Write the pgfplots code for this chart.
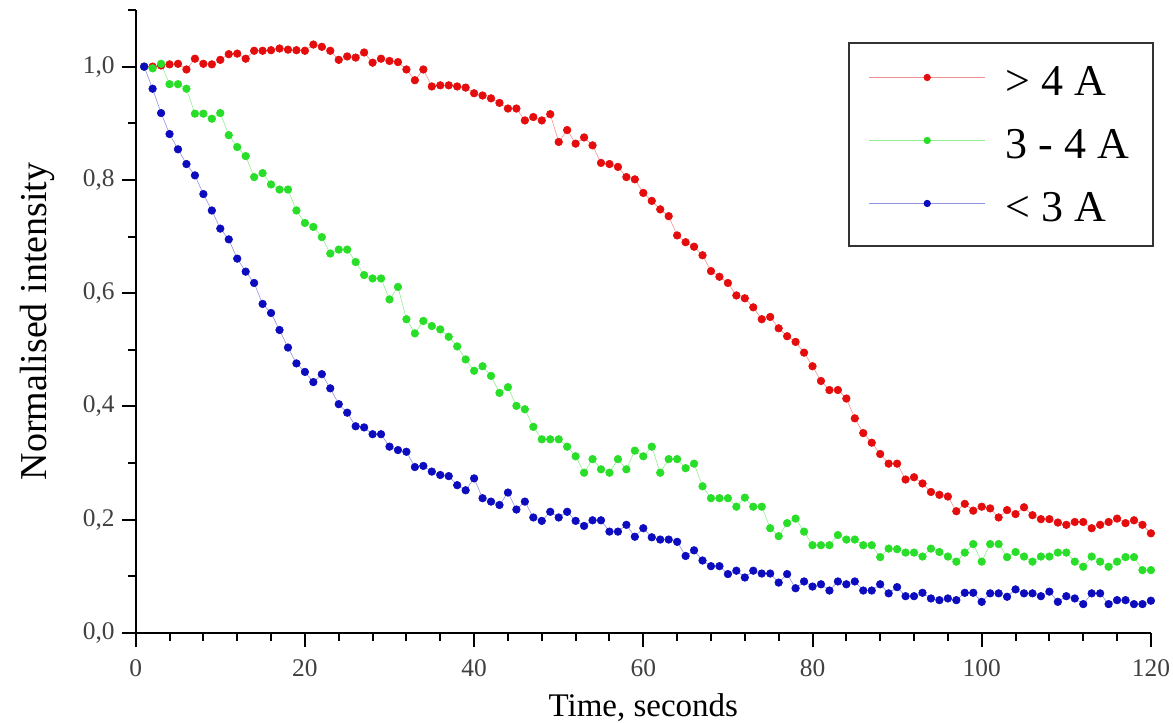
\documentclass[border=0pt]{standalone}
\usepackage{pgfplots}
\pgfplotsset{compat=1.18}
\usepackage{pgfplotstable}
\usepackage{fontspec}
\setmainfont{Liberation Serif}
\definecolor{cred}{RGB}{228,12,12}
\definecolor{cgreen}{RGB}{40,222,40}
\definecolor{cblue}{RGB}{12,12,190}

\pgfplotstableread{
x y
1 1.000
2 1.000
3 1.002
4 1.004
5 1.005
6 0.995
7 1.014
8 1.005
9 1.004
10 1.012
11 1.022
12 1.023
13 1.014
14 1.028
15 1.028
16 1.029
17 1.032
18 1.030
19 1.029
20 1.028
21 1.039
22 1.035
23 1.028
24 1.012
25 1.018
26 1.016
27 1.025
28 1.007
29 1.014
30 1.010
31 1.008
32 0.995
33 0.976
34 0.995
35 0.965
36 0.967
37 0.967
38 0.965
39 0.963
40 0.953
41 0.949
42 0.944
43 0.936
44 0.926
45 0.926
46 0.905
47 0.911
48 0.905
49 0.916
50 0.867
51 0.888
52 0.864
53 0.875
54 0.861
55 0.830
56 0.828
57 0.823
58 0.805
59 0.801
60 0.777
61 0.763
62 0.748
63 0.736
64 0.702
65 0.690
66 0.682
67 0.667
68 0.639
69 0.629
70 0.618
71 0.596
72 0.591
73 0.575
74 0.554
75 0.558
76 0.538
77 0.524
78 0.514
79 0.495
80 0.471
81 0.445
82 0.429
83 0.429
84 0.414
85 0.379
86 0.353
87 0.336
88 0.316
89 0.299
90 0.299
91 0.271
92 0.275
93 0.264
94 0.249
95 0.244
96 0.241
97 0.215
98 0.228
99 0.216
100 0.223
101 0.220
102 0.204
103 0.217
104 0.210
105 0.222
106 0.208
107 0.201
108 0.201
109 0.195
110 0.191
111 0.196
112 0.196
113 0.185
114 0.191
115 0.196
116 0.202
117 0.194
118 0.199
119 0.191
120 0.176
}\redtable

\pgfplotstableread{
x y
1 1.000
2 0.997
3 1.005
4 0.969
5 0.969
6 0.961
7 0.917
8 0.917
9 0.908
10 0.918
11 0.879
12 0.858
13 0.842
14 0.805
15 0.812
16 0.792
17 0.783
18 0.783
19 0.746
20 0.724
21 0.717
22 0.699
23 0.670
24 0.677
25 0.677
26 0.655
27 0.632
28 0.626
29 0.626
30 0.589
31 0.611
32 0.554
33 0.529
34 0.551
35 0.542
36 0.536
37 0.523
38 0.506
39 0.483
40 0.463
41 0.471
42 0.454
43 0.424
44 0.434
45 0.401
46 0.395
47 0.364
48 0.342
49 0.342
50 0.342
51 0.329
52 0.312
53 0.283
54 0.307
55 0.289
56 0.283
57 0.307
58 0.289
59 0.322
60 0.312
61 0.329
62 0.283
63 0.307
64 0.307
65 0.291
66 0.299
67 0.259
68 0.238
69 0.238
70 0.238
71 0.223
72 0.239
73 0.223
74 0.223
75 0.185
76 0.171
77 0.194
78 0.202
79 0.179
80 0.155
81 0.155
82 0.155
83 0.173
84 0.165
85 0.165
86 0.155
87 0.155
88 0.134
89 0.149
90 0.148
91 0.142
92 0.142
93 0.135
94 0.149
95 0.143
96 0.135
97 0.126
98 0.142
99 0.157
100 0.126
101 0.157
102 0.157
103 0.134
104 0.143
105 0.135
106 0.126
107 0.135
108 0.135
109 0.142
110 0.142
111 0.126
112 0.117
113 0.135
114 0.126
115 0.117
116 0.126
117 0.134
118 0.134
119 0.111
120 0.111
}\greentable

\pgfplotstableread{
x y
1 1.000
2 0.961
3 0.918
4 0.881
5 0.854
6 0.828
7 0.808
8 0.775
9 0.746
10 0.714
11 0.695
12 0.661
13 0.638
14 0.618
15 0.581
16 0.565
17 0.535
18 0.504
19 0.476
20 0.461
21 0.443
22 0.457
23 0.432
24 0.404
25 0.389
26 0.365
27 0.363
28 0.351
29 0.351
30 0.329
31 0.323
32 0.320
33 0.293
34 0.295
35 0.285
36 0.279
37 0.277
38 0.261
39 0.252
40 0.273
41 0.238
42 0.232
43 0.226
44 0.248
45 0.218
46 0.232
47 0.204
48 0.198
49 0.214
50 0.204
51 0.214
52 0.198
53 0.189
54 0.199
55 0.199
56 0.179
57 0.179
58 0.191
59 0.170
60 0.185
61 0.169
62 0.165
63 0.165
64 0.161
65 0.136
66 0.146
67 0.128
68 0.118
69 0.118
70 0.104
71 0.110
72 0.098
73 0.110
74 0.105
75 0.105
76 0.089
77 0.104
78 0.079
79 0.091
80 0.082
81 0.086
82 0.075
83 0.091
84 0.086
85 0.091
86 0.075
87 0.075
88 0.086
89 0.070
90 0.081
91 0.065
92 0.065
93 0.071
94 0.061
95 0.058
96 0.061
97 0.058
98 0.071
99 0.071
100 0.055
101 0.070
102 0.070
103 0.064
104 0.077
105 0.070
106 0.070
107 0.065
108 0.073
109 0.055
110 0.065
111 0.061
112 0.051
113 0.070
114 0.070
115 0.051
116 0.058
117 0.058
118 0.051
119 0.051
120 0.057
}\bluetable

\begin{document}
\begin{tikzpicture}
\useasboundingbox (0,0) rectangle (586.5pt,361.5pt);
\begin{axis}[
  at={(67.85pt,45pt)}, anchor=south west,
  scale only axis, width=507.6pt, height=311.5pt,
  xmin=0, xmax=120, ymin=0, ymax=1.1,
  axis x line*=bottom, axis y line*=left,
  axis line style={line width=1pt, black},
  xtick={0,20,...,120}, minor xtick={4,8,12,16,24,28,32,36,44,48,52,56,64,68,72,76,84,88,92,96,104,108,112,116},
  ytick={0,0.2,0.4,0.6,0.8,1.0}, minor ytick={0.1,0.3,0.5,0.7,0.9,1.1},
  tick align=outside,
  major tick length=7pt, minor tick length=4pt,
  every tick/.style={black, line width=1pt},
  /pgf/number format/assume math mode=true,
  yticklabel style={/pgf/number format/.cd, use comma, fixed, fixed zerofill, precision=1},
  ticklabel style={font=\fontsize{12.7}{14}\selectfont, text=black!75},
  xticklabel style={yshift=-3pt},
  xlabel={Time, seconds},
  ylabel={Normalised intensity},
  xlabel style={font=\fontsize{16.5}{18}\selectfont, at={(ticklabel cs:0.5,1.5pt)}},
  ylabel style={font=\fontsize{19}{21}\selectfont, at={(ticklabel cs:0.5,7pt)}},
  legend style={at={(1.003,0.949)}, anchor=north east, draw=black!80, line width=1pt,
    font=\fontsize{22}{22}\selectfont, inner xsep=10pt, inner ysep=10pt, row sep=13pt,
    column sep=0pt,
    nodes={text height=14.5pt, text depth=0pt, inner sep=2pt}},
  legend cell align=left,
  legend image code/.code={\draw[#1, line width=0.4pt, mark size=1.6pt, mark repeat=2, mark phase=2, yshift=0.19em] plot coordinates {(0pt,0pt) (29pt,0pt) (58pt,0pt)}; \path (66pt,0.19em);},
]
\addplot[draw=cred!45, line width=0.3pt, mark=*, mark size=1.9pt, mark options={draw=cred, fill=cred}] table[x=x,y=y] {\redtable};
\addlegendentry{> 4 A}
\addplot[draw=cgreen!50, line width=0.3pt, mark=*, mark size=1.9pt, mark options={draw=cgreen, fill=cgreen}] table[x=x,y=y] {\greentable};
\addlegendentry{3 - 4 A}
\addplot[draw=cblue!45, line width=0.3pt, mark=*, mark size=1.9pt, mark options={draw=cblue, fill=cblue}] table[x=x,y=y] {\bluetable};
\addlegendentry{< 3 A}
\end{axis}
\end{tikzpicture}
\end{document}
